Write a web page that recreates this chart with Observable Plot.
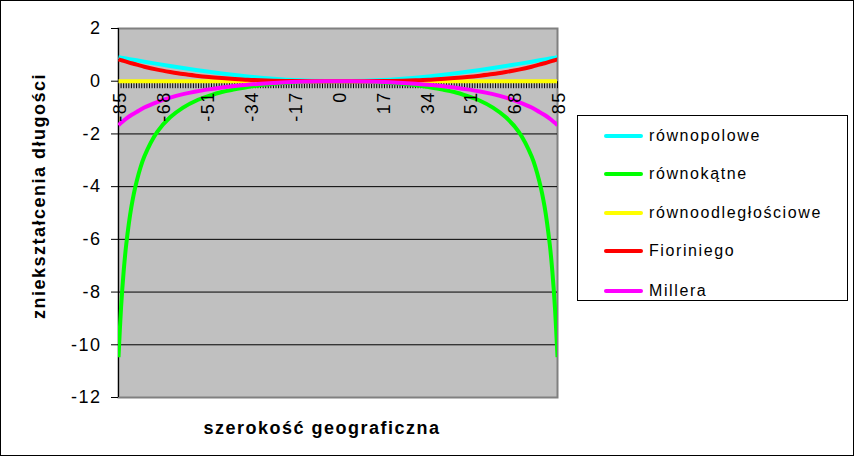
<!DOCTYPE html>
<html><head><meta charset="utf-8">
<script src="https://cdn.jsdelivr.net/npm/d3@7"></script>
<script src="https://cdn.jsdelivr.net/npm/@observablehq/plot@0.6"></script>
<style>
body{margin:0;background:#fff;}
#wrap{position:relative;width:854px;height:456px;font-family:"Liberation Sans",Arial,sans-serif;color:#000;}
#wrap svg{position:absolute;left:0;top:0;}
#wrap svg text{letter-spacing:1.5px;}
#border{position:absolute;left:0;top:0;width:854px;height:456px;box-sizing:border-box;border:1px solid #000;pointer-events:none;}
#legend{position:absolute;left:577px;top:115px;width:271px;height:186px;box-sizing:border-box;border:1px solid #000;background:#fff;}
.sw{position:absolute;left:26px;width:39px;height:4px;border-radius:2px;transform:translateY(-50%);}
.lb{position:absolute;left:71px;font-size:16px;line-height:16px;letter-spacing:1.6px;white-space:nowrap;transform:translateY(-50%);}
</style></head>
<body><div id="wrap"></div>
<script>
// latitude (category) values
const lat = [-85,-84,-83,-82,-80,-78,-75,-70,-65,-60,-55,-50,-45,-40,-35,-30,-25,-20,-15,-10,-5,0,5,10,15,20,25,30,35,40,45,50,55,60,65,70,75,78,80,82,83,84,85];
// series values
const rownopolowe = [0.913,0.895,0.878,0.861,0.826,0.792,0.741,0.658,0.577,0.5,0.426,0.357,0.293,0.234,0.181,0.134,0.094,0.06,0.034,0.015,0.004,0,0.004,0.015,0.034,0.06,0.094,0.134,0.181,0.234,0.293,0.357,0.426,0.5,0.577,0.658,0.741,0.792,0.826,0.861,0.878,0.895,0.913];
const rownokatne = [-10.47,-8.57,-7.21,-6.19,-4.76,-3.81,-2.86,-1.92,-1.37,-1,-0.74,-0.56,-0.41,-0.31,-0.22,-0.15,-0.1,-0.06,-0.035,-0.015,-0.004,0,-0.004,-0.015,-0.035,-0.06,-0.1,-0.15,-0.22,-0.31,-0.41,-0.56,-0.74,-1,-1.37,-1.92,-2.86,-3.81,-4.76,-6.19,-7.21,-8.57,-10.47];
const rownoodleglosciowe = [0,0,0,0,0,0,0,0,0,0,0,0,0,0,0,0,0,0,0,0,0,0,0,0,0,0,0,0,0,0,0,0,0,0,0,0,0,0,0,0,0,0,0];
const fioriniego = [0.83,0.8,0.77,0.74,0.68,0.63,0.55,0.44,0.35,0.27,0.21,0.16,0.12,0.085,0.055,0.035,0.02,0.01,0.004,0.001,0,0,0,0.001,0.004,0.01,0.02,0.035,0.055,0.085,0.12,0.16,0.21,0.27,0.35,0.44,0.55,0.63,0.68,0.74,0.77,0.8,0.83];
const millera = [-1.67,-1.58,-1.5,-1.42,-1.28,-1.17,-1,-0.79,-0.62,-0.49,-0.39,-0.31,-0.24,-0.18,-0.13,-0.095,-0.064,-0.04,-0.022,-0.01,-0.002,0,-0.002,-0.01,-0.022,-0.04,-0.064,-0.095,-0.13,-0.18,-0.24,-0.31,-0.39,-0.49,-0.62,-0.79,-1,-1.17,-1.28,-1.42,-1.5,-1.58,-1.67];

const seriesNames = ["równopolowe","równokątne","równoodległościowe","Fioriniego","Millera"];
const seriesColors = ["#00ffff","#00ff00","#ffff00","#ff0000","#ff00ff"];
const seriesValues = [rownopolowe, rownokatne, rownoodleglosciowe, fioriniego, millera];

// axis ticks / labels
const xLabels = [-85,-68,-51,-34,-17,0,17,34,51,68,85];
const xMinorTicks = d3.range(-85, 86, 1);
const yTicks = [-12,-10,-8,-6,-4,-2,0,2];
const yGrid = [-10,-8,-6,-4,-2];
const xTitle = "szerokość geograficzna";
const yTitle = "zniekształcenia długości";

const tickSymbol = {draw(context) { context.moveTo(0, 0); context.lineTo(0, 7); }};

const lines = seriesValues.map((vals, s) =>
  Plot.line(lat.map((x, i) => ({x, y: vals[i]})), {
    x: "x", y: "y", stroke: seriesColors[s], strokeWidth: 4,
    curve: "catmull-rom", clip: true, strokeLinecap: "butt"
  })
);

const chart = Plot.plot({
  width: 854, height: 456,
  marginLeft: 118, marginRight: 297, marginTop: 28, marginBottom: 59,
  style: {fontFamily: '"Liberation Sans", Arial, sans-serif', background: "transparent", color: "#000"},
  x: {domain: [-85, 85], axis: null},
  y: {domain: [-12, 2], axis: null},
  marks: [
    Plot.frame({fill: "#c0c0c0", stroke: "#808080", strokeWidth: 2}),
    Plot.ruleY(yGrid, {stroke: "#000", strokeWidth: 1}),
    Plot.ruleY([0], {stroke: "#000", strokeWidth: 1}),
    Plot.dot(xMinorTicks, {x: d => d, y: 0, symbol: tickSymbol, stroke: "#000", fill: "none", strokeWidth: 1, r: 3}),
    Plot.axisY({ticks: yTicks, tickSize: 7, tickPadding: 10, fontSize: 18, label: null, tickFormat: d => String(d), stroke: "#000"}),
    Plot.ruleX([-85], {stroke: "#000", strokeWidth: 1}),
    ...lines,
    Plot.text(xLabels, {x: d => d, y: 0, text: d => String(d), rotate: -90, textAnchor: "end", dx: 2, dy: 10, fontSize: 18, fill: "#000"}),
    Plot.text([xTitle], {frameAnchor: "bottom", text: d => d, dx: -16, dy: 36, fontSize: 18, fontWeight: "bold", fill: "#000", textAnchor: "middle"}),
    Plot.text([yTitle], {frameAnchor: "left", text: d => d, rotate: -90, dx: -79, dy: -17, fontSize: 18, fontWeight: "bold", fill: "#000", textAnchor: "middle"})
  ]
});

const wrap = document.getElementById("wrap");
wrap.appendChild(chart);

const legend = document.createElement("div");
legend.id = "legend";
const rowY = [20, 58, 97, 135, 175];
seriesNames.forEach((name, i) => {
  const sw = document.createElement("div");
  sw.className = "sw";
  sw.style.top = rowY[i] + "px";
  sw.style.background = seriesColors[i];
  const lb = document.createElement("div");
  lb.className = "lb";
  lb.style.top = rowY[i] + "px";
  lb.textContent = name;
  legend.appendChild(sw);
  legend.appendChild(lb);
});
wrap.appendChild(legend);

const border = document.createElement("div");
border.id = "border";
wrap.appendChild(border);
</script>
</body></html>
